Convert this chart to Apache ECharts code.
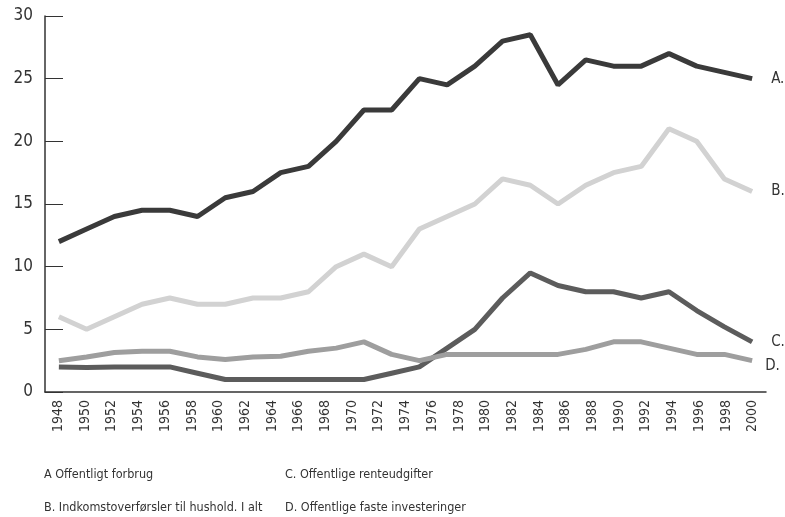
<!DOCTYPE html>
<html>
<head>
<meta charset="utf-8">
<title>Offentlige udgifter</title>
<script src="https://cdn.jsdelivr.net/npm/echarts@6/dist/echarts.min.js"></script>
<style>
  html, body { margin: 0; padding: 0; background: #fff; }
  #main { width: 785px; height: 517px; }
</style>
</head>
<body>
<div id="main"></div>
<script>
// 26 observations drawn on the plot, 27 year labels printed under it
const observations = ['1', '2', '3', '4', '5', '6', '7', '8', '9', '10', '11', '12', '13',
  '14', '15', '16', '17', '18', '19', '20', '21', '22', '23', '24', '25', '26'];
const yearLabels = ['1948', '1950', '1952', '1954', '1956', '1958', '1960', '1962', '1964',
  '1966', '1968', '1970', '1972', '1974', '1976', '1978', '1980', '1982', '1984', '1986',
  '1988', '1990', '1992', '1994', '1996', '1998', '2000'];

const forbrug = [12, 13, 14, 14.5, 14.5, 14, 15.5, 16, 17.5, 18, 20, 22.5, 22.5,
  25, 24.5, 26, 28, 28.5, 24.5, 26.5, 26, 26, 27, 26, 25.5, 25];
const overfoersler = [6, 5, 6, 7, 7.5, 7, 7, 7.5, 7.5, 8, 10, 11, 10,
  13, 14, 15, 17, 16.5, 15, 16.5, 17.5, 18, 21, 20, 17, 16];
const renter = [2, 1.95, 2, 2, 2, 1.5, 1, 1, 1, 1, 1, 1, 1.5,
  2, 3.5, 5, 7.5, 9.5, 8.5, 8, 8, 7.5, 8, 6.5, 5.2, 4];
const investeringer = [2.5, 2.8, 3.15, 3.25, 3.25, 2.8, 2.6, 2.8, 2.85, 3.25, 3.5, 4, 3,
  2.5, 3, 3, 3, 3, 3, 3.4, 4, 4, 3.5, 3, 3, 2.5];

const yTicks = { min: 0, max: 30, interval: 5 };
const legendLabels = ['A Offentligt forbrug', 'B. Indkomstoverførsler til hushold. I alt',
  'C. Offentlige renteudgifter', 'D. Offentlige faste investeringer'];
const endLetters = ['A.', 'B.', 'C.', 'D.'];

const font = '"Liberation Sans Narrow", "DejaVu Sans Condensed", "Liberation Sans", sans-serif';
const ink = '#333';

const chart = echarts.init(document.getElementById('main'));

function line(i, data, color, offset) {
  return {
    name: legendLabels[i],
    type: 'line',
    xAxisIndex: 0,
    data: data,
    symbol: 'none',
    lineStyle: { color: color, width: 5 },
    endLabel: {
      show: true,
      formatter: endLetters[i],
      color: ink,
      fontFamily: font,
      fontSize: 15,
      offset: offset
    }
  };
}

chart.setOption({
  animation: false,
  grid: { left: 45, right: 19, top: 16, bottom: 125 },
  xAxis: [{
    type: 'category',
    data: observations,
    boundaryGap: true,
    axisLine: { onZero: false, lineStyle: { color: ink, width: 1.5 } },
    axisTick: { inside: true, length: 8, interval: 0, lineStyle: { color: ink } },
    axisLabel: { show: false },
    splitLine: { show: false }
  }, {
    type: 'category',
    data: yearLabels,
    position: 'bottom',
    boundaryGap: true,
    axisLine: { show: false, onZero: false },
    axisTick: { show: false },
    axisLabel: {
      interval: 0,
      rotate: 90,
      margin: 8,
      color: ink,
      fontFamily: font,
      fontSize: 14
    }
  }],
  yAxis: {
    type: 'value',
    min: yTicks.min,
    max: yTicks.max,
    interval: yTicks.interval,
    axisLine: { show: true, lineStyle: { color: ink, width: 1.5 } },
    axisTick: { show: true, inside: true, length: 18, lineStyle: { color: ink } },
    axisLabel: { margin: 12, color: ink, fontFamily: font, fontSize: 17 },
    splitLine: { show: false }
  },
  series: [
    line(0, forbrug, '#3a3a3a', [11, 0]),
    line(1, overfoersler, '#d2d2d2', [11, 0]),
    line(2, renter, '#5c5c5c', [11, 0]),
    line(3, investeringer, '#9e9e9e', [5, 5])
  ],
  graphic: [
    { type: 'text', left: 44, top: 468, style: { text: legendLabels[0], fill: ink, font: '12.5px ' + font } },
    { type: 'text', left: 44, top: 501, style: { text: legendLabels[1], fill: ink, font: '12.5px ' + font } },
    { type: 'text', left: 285, top: 468, style: { text: legendLabels[2], fill: ink, font: '12.5px ' + font } },
    { type: 'text', left: 285, top: 501, style: { text: legendLabels[3], fill: ink, font: '12.5px ' + font } }
  ]
});
</script>
</body>
</html>
